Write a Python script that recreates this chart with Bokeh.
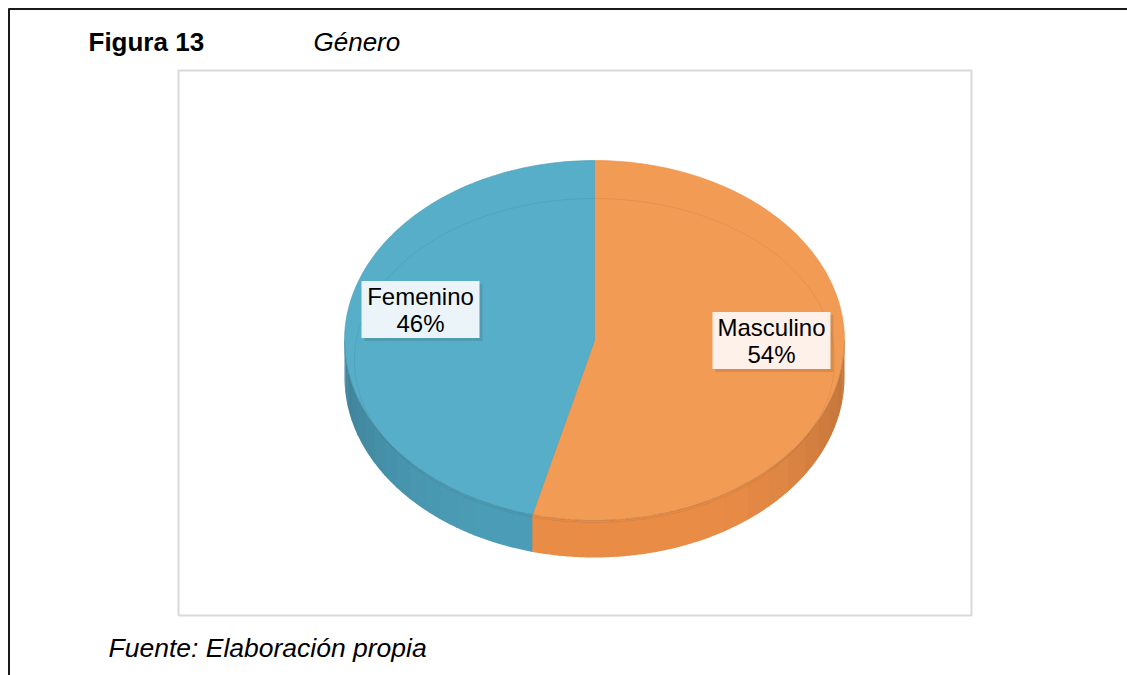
import numpy as np
from bokeh.plotting import figure
from bokeh.models import Range1d
from bokeh.core.properties import value
from bokeh.embed import file_html
from bokeh.resources import INLINE

# ---- data ----
categories = ["Masculino", "Femenino"]
values = [54, 46]
colors_top = ["#F29B55", "#57AEC8"]
colors_side = ["#EA8D47", "#4C9DB8"]
label_bg = ["#FDF1EA", "#EBF5F9"]
figure_title = "Figura 13"
figure_subtitle = "Género"
source_note = "Fuente: Elaboración propia"

# ---- layout (page pixels) ----
W, H = 1127, 675
FONT = "Liberation Sans"

p = figure(width=W, height=H, output_backend="svg", toolbar_location=None,
           x_range=Range1d(0, W), y_range=Range1d(H, 0),
           min_border=0, outline_line_color=None)
p.axis.visible = False
p.grid.visible = False
p.background_fill_color = "white"
p.border_fill_color = "white"

# page border (top and left)
p.segment(x0=[8, 8.5], y0=[8.5, 8], x1=[W, 8.5], y1=[8.5, H],
          line_color="#1a1a1a", line_width=2)

# chart area frame
p.quad(left=[178], right=[971], top=[70], bottom=[615], fill_color=None,
       line_color="#D9D9D9", line_width=2)

# ---- 3D pie ----
cx, cy, rx, ry, depth = 594, 340, 250, 180, 37
total = float(sum(values))
starts, ends = [], []
acc = 0.0
for v in values:
    starts.append(acc / total * 360.0)
    acc += v
    ends.append(acc / total * 360.0)


def arc(a, b, dy=0.0, n=120):
    ph = np.radians(np.linspace(a, b, n))
    return cx + rx * np.sin(ph), cy - ry * np.cos(ph) + dy


# side walls (front half: 90..270 degrees clockwise from top)
for i in range(len(values)):
    a, b = max(starts[i], 90), min(ends[i], 270)
    if a < b:
        nstrip = 16
        edges = np.linspace(a, b, nstrip + 1)
        base = np.array([int(colors_side[i][k:k + 2], 16) for k in (1, 3, 5)], float)
        for j in range(nstrip):
            s0, s1 = edges[j], edges[j + 1]
            mid = (s0 + s1) / 2
            f = 1.0 - 0.16 * abs(np.sin(np.radians(mid))) ** 4
            c = np.clip(base * f, 0, 255).astype(int)
            col = "#%02x%02x%02x" % tuple(c)
            xt, yt = arc(s0, s1 + 0.3, 0, 20)
            xb, yb = arc(s0, s1 + 0.3, depth, 20)
            p.patch(np.concatenate([xt, xb[::-1]]), np.concatenate([yt, yb[::-1]]),
                    fill_color=col, line_color=None)

# top faces
for i in range(len(values)):
    xa, ya = arc(starts[i], ends[i])
    xs = np.concatenate([[cx], xa, [cx]])
    ys = np.concatenate([[cy], ya, [cy]])
    p.patch(xs, ys, fill_color=colors_top[i], line_color=colors_side[i],
            line_width=1, line_alpha=0.6)

# seam between top face and side
xe, ye = arc(90, 270)
p.line(xe, ye, line_color="#000000", line_alpha=0.12, line_width=1.2)

# faint bevel ellipse on the top face
ph = np.radians(np.linspace(0, 360, 240))
p.line(cx + (rx - 10) * np.sin(ph), cy + 20 - (ry - 18) * np.cos(ph),
       line_color="#000000", line_alpha=0.06, line_width=1)

# data labels
box_pos = [(771, 340), (420, 309)]  # centres of label boxes
box_w, box_h = 118, 57
for i in range(len(values)):
    bx, by = box_pos[i]
    p.quad(left=[bx - box_w / 2 + 3], right=[bx + box_w / 2 + 3],
           top=[by - box_h / 2 + 3], bottom=[by + box_h / 2 + 3],
           fill_color="#000000", fill_alpha=0.10, line_color=None)
    p.quad(left=[bx - box_w / 2], right=[bx + box_w / 2],
           top=[by - box_h / 2], bottom=[by + box_h / 2],
           fill_color=label_bg[i], line_color=None)
    p.text(x=[bx, bx], y=[by - 13, by + 14],
           text=[categories[i], "%d%%" % values[i]],
           text_font=value(FONT), text_font_size="24px", text_color="#000000",
           text_align="center", text_baseline="middle")

# titles and note
p.text(x=[88], y=[41], text=[figure_title], text_font=value(FONT),
       text_font_size="26px", text_font_style="bold", text_color="#000000",
       text_align="left", text_baseline="middle")
p.text(x=[313], y=[41], text=[figure_subtitle], text_font=value(FONT),
       text_font_size="26px", text_font_style="italic", text_color="#000000",
       text_align="left", text_baseline="middle")
p.text(x=[108], y=[647], text=[source_note], text_font=value(FONT),
       text_font_size="26.5px", text_font_style="italic", text_color="#000000",
       text_align="left", text_baseline="middle")

open("out.html", "w").write(file_html(p, INLINE))
